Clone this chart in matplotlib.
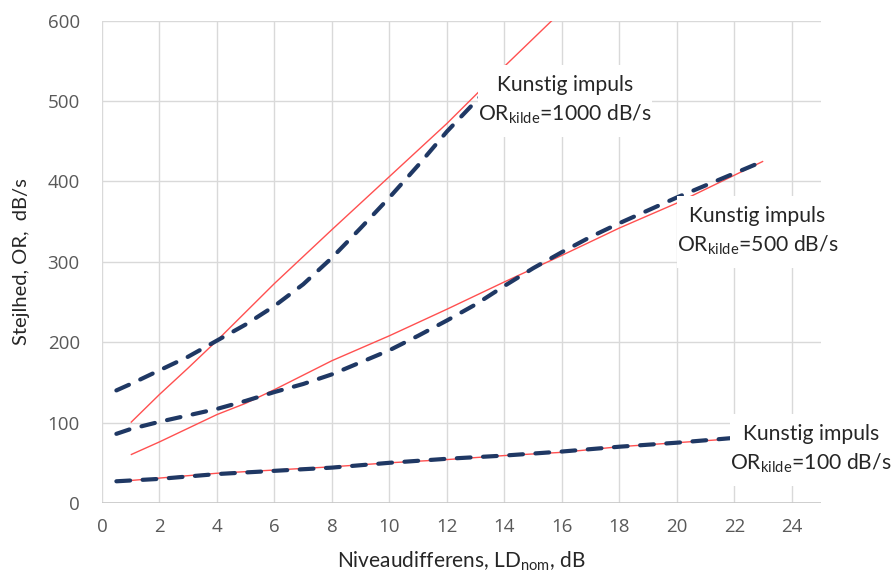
import matplotlib
matplotlib.use("Agg")
import matplotlib.pyplot as plt
from matplotlib.path import Path

# ---- data ----
x_red_1000 = [1, 2, 3, 4, 6, 8, 10, 12, 14, 16]
y_red_1000 = [100, 135, 168, 202, 273, 340, 406, 472, 543, 612]

x_dash_1000 = [0.5, 1, 2, 3, 4, 5, 6, 7, 8, 9, 10, 11, 12, 13.2]
y_dash_1000 = [140, 148, 165, 182, 202, 222, 245, 272, 305, 342, 380, 420, 462, 507]

x_red_500 = [1, 2, 3, 4, 5, 6, 8, 10, 12, 14, 16, 18, 20, 23]
y_red_500 = [60, 76, 93, 110, 124, 141, 177, 208, 241, 275, 308, 342, 373, 425]

x_dash_500 = [0.5, 1, 2, 3, 4, 5, 6, 7, 8, 9, 10, 11, 12, 13, 14, 15, 16, 17, 18, 19, 20, 21, 22, 23]
y_dash_500 = [86, 92, 101, 109, 117, 127, 138, 148, 160, 175, 190, 208, 227, 247, 270, 292, 312, 331, 348, 364, 380, 395, 410, 425]

x_red_100 = [1, 2, 4, 6, 8, 10, 12, 14, 16, 18, 20, 22]
y_red_100 = [28, 31, 37, 41, 45, 50, 54, 59, 63, 70, 75, 80]

x_dash_100 = [0.5, 2, 4, 6, 8, 10, 12, 14, 16, 18, 20, 22]
y_dash_100 = [27, 30, 36, 40, 44, 50, 55, 59, 64, 70, 75, 81]

x_ticks = list(range(0, 25, 2))
y_ticks = list(range(0, 601, 100))

ann_text = [
    ("Kunstig impuls\nOR$_{\\mathregular{kilde}}$=1000 dB/s", 16.1, 501),
    ("Kunstig impuls\nOR$_{\\mathregular{kilde}}$=500 dB/s", 22.8, 338),
    ("Kunstig impuls\nOR$_{\\mathregular{kilde}}$=100 dB/s", 24.65, 67),
]

# ---- styling ----
RED = "#ff5050"
NAVY = "#1f3864"
GRID = "#d9d9d9"
TICKC = "#595959"
TEXTC = "#262626"


def label_box(x0, y0, width, height, mutation_size):
    """White label box: little horizontal padding, more vertical padding."""
    padx = 0.0
    pady = 0.55 * mutation_size
    x0, x1 = x0 - padx, x0 + width + padx
    y0, y1 = y0 - pady, y0 + height + pady
    return Path([(x0, y0), (x1, y0), (x1, y1), (x0, y1), (x0, y0)], closed=True)


fig = plt.figure(figsize=(8.94, 5.73), dpi=100)
ax = fig.add_axes([102 / 894, 1 - 503 / 573, 718.7 / 894, 482.5 / 573])

for xs, ys in [(x_red_1000, y_red_1000), (x_red_500, y_red_500), (x_red_100, y_red_100)]:
    ax.plot(xs, ys, color=RED, lw=1.0, zorder=3, solid_capstyle="butt")

for xs, ys in [(x_dash_1000, y_dash_1000), (x_dash_500, y_dash_500), (x_dash_100, y_dash_100)]:
    ax.plot(xs, ys, color=NAVY, lw=3.0, zorder=4, dashes=(3.3, 3.0),
            dash_capstyle="round")

ax.set_xlim(0, 25)
ax.set_ylim(0, 600)
ax.set_xticks(x_ticks)
ax.set_yticks(y_ticks)
ax.grid(True, color=GRID, lw=1.0, zorder=0)
ax.set_axisbelow(True)
for s in ax.spines.values():
    s.set_visible(False)
ax.axhline(0, color="#c8c8c8", lw=1.2, zorder=1)

ax.tick_params(length=0, colors=TICKC, labelsize=13.5)
ax.tick_params(axis="y", pad=16)
ax.tick_params(axis="x", pad=11)
for lab in ax.get_xticklabels() + ax.get_yticklabels():
    lab.set_fontfamily(["Open Sans", "DejaVu Sans"])

ax.set_xlabel("Niveaudifferens, LD$_{\\mathregular{nom}}$, dB", fontsize=15,
              color=TEXTC, family=["Lato", "DejaVu Sans"])
ax.xaxis.label.set_va("baseline")
ax.xaxis.set_label_coords(0.5, -(567.7 - 503) / 482.5)

ax.set_ylabel("Stejlhed, OR,  dB/s", fontsize=14.5, color=TEXTC,
              family=["Lato", "DejaVu Sans"])
ax.yaxis.label.set_va("center")
ax.yaxis.set_label_coords(-(102 - 22) / 718.7, 0.5)

for txt, tx, ty in ann_text:
    ax.text(tx, ty, txt, ha="center", va="center", fontsize=15.2,
            color=TEXTC, family=["Lato", "DejaVu Sans"], linespacing=1.42,
            zorder=6, clip_on=False,
            bbox=dict(boxstyle=label_box, facecolor="white", edgecolor="none"))

fig.savefig("out.png", dpi=100)
